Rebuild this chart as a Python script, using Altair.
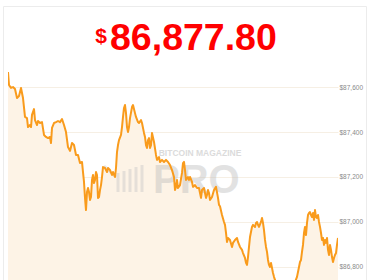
import altair as alt
import pandas as pd

t = [0,1,3,5,7,9,11,13,15,17,19,20,22,23,24,26,27,29,30,32,34,36,38,40,42,43,44,46,48,50,52,54,56,58,60,62,64,66,68,70,72,74,75,76,77,78,79,80,81,82,83,84,85,86,87,88,89,90,91,92,93,94,95,97,99,100,102,104,105,107,108,109,110,111,113,114,115,116,117,118,119,120,121,122,124,125,127,128,130,131,133,134,136,137,138,139,140,141,142,143,144,146,148,149,151,152,154,156,158,160,162,164,166,167,168,169,170,172,174,175,176,177,178,180,181,182,184,185,187,189,191,192,193,194,196,197,198,199,200,201,202,204,206,208,210,211,212,214,216,217,218,219,220,222,224,225,227,229,230,232,234,235,237,238,239,240,241,242,244,245,247,248,249,250,251,253,254,255,256,257,258,259,260,261,262,263,264,265,266,267,269,272,276,280,283,286,289,291,292,293,294,295,296,297,298,299,300,301,302,303,304,305,306,307,308,309,310,311,312,313,314,315,316,317,318,319,320,321,322,323,324,325,326,327,328,329,330]
price = [87667,87609,87596,87600,87591,87551,87560,87596,87551,87467,87462,87422,87431,87422,87476,87502,87453,87431,87449,87440,87444,87387,87378,87373,87378,87351,87418,87440,87444,87449,87444,87458,87431,87400,87333,87316,87351,87342,87298,87298,87262,87267,87222,87178,87107,87053,87133,87151,87133,87098,87111,87187,87209,87173,87187,87222,87209,87107,87111,87142,87164,87200,87244,87240,87222,87240,87231,87209,87222,87200,87240,87311,87342,87364,87387,87422,87467,87507,87520,87484,87422,87400,87422,87462,87511,87520,87484,87467,87444,87440,87453,87440,87396,87378,87342,87329,87364,87373,87329,87342,87396,87356,87298,87276,87289,87267,87276,87267,87276,87267,87253,87231,87200,87142,87156,87187,87151,87164,87218,87262,87267,87231,87187,87200,87187,87200,87178,87156,87164,87151,87151,87129,87107,87142,87151,87129,87107,87120,87142,87129,87098,87111,87142,87156,87107,87076,87070,87031,87000,86987,86951,86911,86929,86920,86889,86907,86920,86929,86911,86889,86876,86862,86840,86818,86809,86844,86889,86933,86978,86987,86978,86996,87000,86987,86978,87000,87018,86996,86964,86920,86889,86867,86831,86809,86800,86818,86796,86773,86756,86742,86725,86715,86700,86725,86735,86720,86756,86800,86822,86831,86867,86898,86951,86978,86942,86996,87031,87040,87044,87031,87022,87040,87009,87053,87022,87018,87031,87000,86978,86951,86920,86929,86898,86920,86907,86929,86876,86853,86898,86876,86844,86822,86840,86853,86862,86898,86929]

y_ticks = [86800, 87000, 87200, 87400, 87600]
price_text = "86,877.80"

df = pd.DataFrame({"t": t, "price": price})

W, H = 330, 215
xs = alt.Scale(domain=[0, 330], nice=False, zero=False)
ys = alt.Scale(domain=[86742, 87698], nice=False, zero=False)

base = alt.Chart(df)

area = base.mark_area(color="#fdf3e6", clip=True).encode(
    x=alt.X("t:Q", scale=xs, axis=None),
    y=alt.Y("price:Q", scale=ys,
            axis=alt.Axis(orient="right", values=y_ticks, format="$,.0f",
                          domain=False, ticks=False, labelPadding=1,
                          labelFontSize=6.5, labelColor="#8a8a8a",
                          labelFont="Liberation Sans",
                          grid=True, gridColor="#f6efe4", gridWidth=1,
                          title=None)),
)

line = base.mark_line(color="#f99b1c", strokeWidth=2, clip=True,
                      strokeJoin="round").encode(
    x=alt.X("t:Q", scale=xs),
    y=alt.Y("price:Q", scale=ys),
)

one = pd.DataFrame({"k": [0]})

def txt(text, x, y, size, color, align="left", weight="bold", opacity=1.0):
    return alt.Chart(one).mark_text(
        text=text, align=align, baseline="alphabetic", fontSize=size,
        font="Liberation Sans", fontWeight=weight, color=color,
        opacity=opacity,
    ).encode(x=alt.value(x), y=alt.value(y))

def bar(x, y1, y2, w=3):
    return alt.Chart(one).mark_rule(color="#c8c8c8", opacity=0.45, strokeWidth=w).encode(
        x=alt.value(x), y=alt.value(y1), y2=alt.value(y2))

logo = [bar(110, 108, 127), bar(116, 106, 127), bar(122, 104, 127),
        bar(128, 102, 127), bar(134, 100, 127),
        alt.Chart(one).mark_rule(color="#c8c8c8", opacity=0.45, strokeWidth=3).encode(
            x=alt.value(96), x2=alt.value(108), y=alt.value(101), y2=alt.value(112))]

wm1 = txt("BITCOIN MAGAZINE", 192, 91, 8.5, "#b9b9b9", align="center", opacity=0.5)
wm2 = txt("PRO", 145, 128, 40, "#b9b9b9", opacity=0.4)
dollar = txt("$", 99, -22, 21, "#ff0000", align="right")
title = txt(price_text, 102, -15, 37.5, "#ff0000")

border = alt.Chart(one).mark_rect(
    fill="transparent", stroke="#ececec", strokeWidth=1
).encode(x=alt.value(-4.5), x2=alt.value(358.5), y=alt.value(-58.5), y2=alt.value(240))

chart = alt.layer(border, area, *logo, wm1, wm2, line, dollar, title).properties(
    width=W, height=H,
    autosize=alt.AutoSizeParams(type="none"),
    padding={"left": 8, "top": 65, "right": 32, "bottom": 0},
    background="white",
).configure_view(stroke=None)

chart.save("out.html", embed_options={"renderer": "svg", "actions": False})
